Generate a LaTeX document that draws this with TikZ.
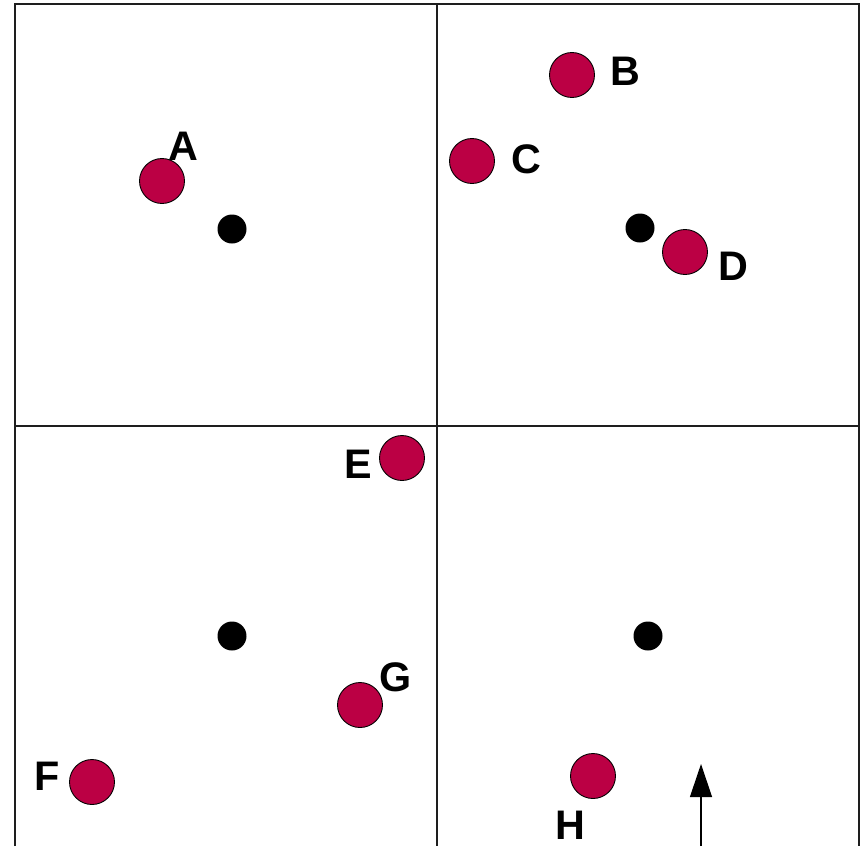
\documentclass[tikz,border=0pt]{standalone}
\usepackage{fontspec}
\setmainfont{Liberation Sans}
\usetikzlibrary{arrows.meta,positioning}
\definecolor{berry}{RGB}{187,0,68}
\definecolor{ink}{RGB}{30,30,30}
\tikzset{
  >={Triangle[length=6.6mm,width=4.4mm]},
  frame/.style={draw=ink,line width=0.9pt},
  ball/.style={circle,draw=black,fill=berry,line width=0.5pt,minimum size=9mm,inner sep=0pt},
  dot/.style={circle,fill=black,minimum size=5.8mm,inner sep=0pt},
  tag/.style={font=\fontsize{23.5}{26}\selectfont\bfseries,inner sep=0pt},
}
\begin{document}
\begin{tikzpicture}[x=0.02cm,y=-0.02cm]
  \useasboundingbox (0,0) rectangle (868,846);
  % quadrants
  \draw[frame] (15,846) -- (15,4) -- (859,4) -- (859,846);
  \draw[frame] (437,4) -- (437,846);
  \draw[frame] (15,426) -- (859,426);
  % centres
  \node[dot] (c1) at (232,229) {};
  \node[dot] (c2) at (640,228) {};
  \node[dot] (c3) at (232,636) {};
  \node[dot] (c4) at (648,636) {};
  % points
  \node[ball] (a) at (162,181) {};
  \node[ball] (b) at (572,75) {};
  \node[ball] (c) at (472,161) {};
  \node[ball] (d) at (685,252) {};
  \node[ball] (e) at (402,458) {};
  \node[ball] (g) at (360,705) {};
  \node[ball] (f) at (92,782) {};
  \node[ball] (h) at (593,776) {};
  \node[tag] (la) at (183,146) {A};
  \node[tag] (lb) at (625,71) {B};
  \node[tag] (lc) at (526,159) {C};
  \node[tag] (ld) at (733,266) {D};
  \node[tag] (le) at (358,464) {E};
  \node[tag] (lg) at (396,677) {G};
  \node[tag] (lf) at (47,776) {F};
  \node[tag] (lh) at (570,825) {H};
  % direction
  \coordinate (tail) at (701,846);
  \coordinate (tip) at (701,764);
  \draw[->,line width=0.7pt] (tail) -- (tip);
\end{tikzpicture}
\end{document}
